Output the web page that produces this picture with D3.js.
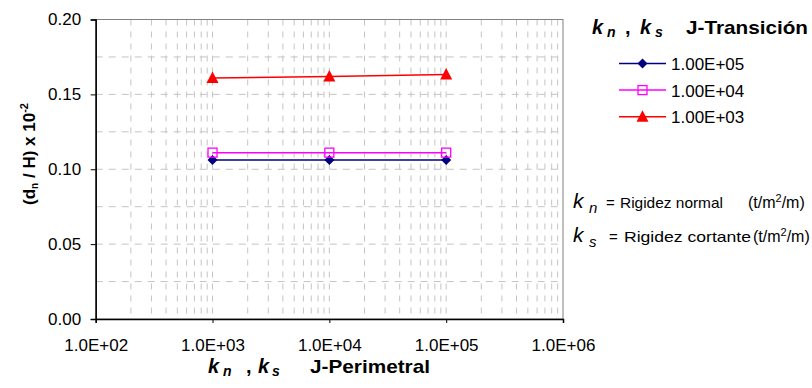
<!DOCTYPE html>
<html lang="es">
<head>
<meta charset="UTF-8">
<title>Desplazamiento normal</title>
<script src="https://cdn.jsdelivr.net/npm/d3@7"></script>
<style>
  body { margin: 0; background: #fff; }
  svg { font-family: "Liberation Sans", Arial, sans-serif; }
  .tick text { font-size: 17px; fill: #000; }
</style>
</head>
<body>
<div id="chart"></div>
<script>
// valores
const perimetral = [1e3, 1e4, 1e5];   // kn, ks J-Perimetral
const transicion = ["1.00E+05", "1.00E+04", "1.00E+03"];
const serie1e5 = [0.1062, 0.1062, 0.1062];
const serie1e4 = [0.1111, 0.1111, 0.1111];
const serie1e3 = [0.1609, 0.1620, 0.1633];
const xTicks = [1e2, 1e3, 1e4, 1e5, 1e6];
const yTicks = [0, 0.05, 0.10, 0.15, 0.20];

const width = 812, height = 388;
const mLeft = 95.7, mRight = 563, mTop = 19.5, mBottom = 319;

const svg = d3.select("#chart").append("svg")
  .attr("width", width).attr("height", height);

const x = d3.scaleLog().domain([1e2, 1e6]).range([mLeft, mRight]);
const y = d3.scaleLinear().domain([0, 0.2]).range([mBottom, mTop]);

// rejilla
const grid = svg.append("g");
const minor = [];
for (let p = 2; p < 6; p++) for (let k = 1; k < 10; k++) minor.push(k * Math.pow(10, p));
grid.selectAll(".vg").data(minor.filter(v => v > 1e2)).join("line")
  .attr("x1", d => x(d)).attr("x2", d => x(d))
  .attr("y1", mTop).attr("y2", mBottom)
  .attr("stroke", "#c4c4c4").attr("stroke-dasharray", "6,6");
grid.selectAll(".hg").data(d3.range(1, 8).map(i => i * 0.025)).join("line")
  .attr("x1", mLeft).attr("x2", mRight)
  .attr("y1", d => y(d)).attr("y2", d => y(d))
  .attr("stroke", "#c4c4c4").attr("stroke-dasharray", "7,6");

// borde del area
svg.append("rect").attr("x", mLeft).attr("y", mTop)
  .attr("width", mRight - mLeft).attr("height", mBottom - mTop)
  .attr("fill", "none").attr("stroke", "#808080");

// ejes
const xAxis = svg.append("g").attr("transform", `translate(0,${mBottom})`)
  .call(d3.axisBottom(x).tickValues(xTicks).tickSize(4).tickPadding(16)
    .tickFormat(d => "1.0E+0" + Math.round(Math.log10(d))));
const yAxis = svg.append("g").attr("transform", `translate(${mLeft},0)`)
  .call(d3.axisLeft(y).tickValues(yTicks).tickSize(5).tickPadding(9.5)
    .tickFormat(d3.format(".2f")));
[xAxis, yAxis].forEach(a => {
  a.select(".domain").attr("stroke", "#000").attr("stroke-width", 1.5);
  a.selectAll(".tick line").attr("stroke", "#000");
});

// series
const series = [
  { name: transicion[0], vals: serie1e5, color: "#000080", shape: "diamond" },
  { name: transicion[1], vals: serie1e4, color: "#ff00ff", shape: "square" },
  { name: transicion[2], vals: serie1e3, color: "#ff0000", shape: "triangle" }
];
const line = d3.line().x(d => x(d[0])).y(d => y(d[1]));

function marker(g, s, cx, cy) {
  if (s.shape === "diamond") {
    g.append("path").attr("d", `M${cx},${cy - 5}L${cx + 5},${cy}L${cx},${cy + 5}L${cx - 5},${cy}Z`)
      .attr("fill", s.color);
  } else if (s.shape === "square") {
    g.append("rect").attr("x", cx - 4.5).attr("y", cy - 4.5).attr("width", 9).attr("height", 9)
      .attr("fill", "none").attr("stroke", s.color).attr("stroke-width", 1.3);
  } else {
    g.append("path").attr("d", `M${cx},${cy - 6.5}L${cx + 6},${cy + 5}L${cx - 6},${cy + 5}Z`)
      .attr("fill", s.color);
  }
}

series.forEach(s => {
  const pts = perimetral.map((k, i) => [k, s.vals[i]]);
  const g = svg.append("g");
  g.append("path").attr("d", line(pts)).attr("fill", "none")
    .attr("stroke", s.color).attr("stroke-width", 1.5);
  pts.forEach(p => marker(g, s, x(p[0]), y(p[1])));
});

// titulos "kn , ks  ..." con posiciones de cada pieza
function kTitle(x0, base, off, suffix, suffixW) {
  const g = svg.append("g").attr("font-weight", "bold");
  g.append("text").attr("x", x0).attr("y", base).attr("font-size", 20).attr("font-style", "italic").text("k");
  g.append("text").attr("x", x0 + 15).attr("y", base + 3).attr("font-size", 14).attr("font-style", "italic").text("n");
  g.append("text").attr("x", x0 + off[0]).attr("y", base).attr("font-size", 20).text(",");
  g.append("text").attr("x", x0 + off[1]).attr("y", base).attr("font-size", 20).attr("font-style", "italic").text("k");
  g.append("text").attr("x", x0 + off[2]).attr("y", base + 3).attr("font-size", 14).attr("font-style", "italic").text("s");
  g.append("text").attr("x", x0 + off[3]).attr("y", base).attr("font-size", 19)
    .attr("textLength", suffixW).attr("lengthAdjust", "spacingAndGlyphs").text(suffix);
}
kTitle(208, 373, [38, 50, 64, 102], "J-Perimetral", 120);
kTitle(592, 34, [33, 48, 63, 94], "J-Transición", 122);

const yt = svg.append("text").attr("transform", "translate(35,154) rotate(-90)")
  .attr("text-anchor", "middle").attr("font-size", 17).attr("font-weight", "bold");
yt.append("tspan").text("(d");
yt.append("tspan").attr("font-size", 10).attr("dy", 3).text("n");
yt.append("tspan").attr("dy", -3).text(" / H) x 10");
yt.append("tspan").attr("font-size", 11).attr("dy", -7).text("-2");

// leyenda
const leg = svg.append("g");
series.forEach((s, i) => {
  const cy = 63.5 + i * 26.6;
  leg.append("line").attr("x1", 619).attr("x2", 666).attr("y1", cy).attr("y2", cy)
    .attr("stroke", s.color).attr("stroke-width", 1.5);
  marker(leg, s, 642.5, cy);
  leg.append("text").attr("x", 671).attr("y", cy + 6.5).attr("font-size", 17).text(s.name);
});

// notas
function nota(base, sub, eqX, txt, txtX, txtW, unitX) {
  const g = svg.append("g");
  g.append("text").attr("x", 573).attr("y", base).attr("font-size", 21).attr("font-style", "italic").text("k");
  g.append("text").attr("x", 589).attr("y", base + 5).attr("font-size", 15).attr("font-style", "italic").text(sub);
  g.append("text").attr("x", eqX).attr("y", base).attr("font-size", 15).text("=");
  g.append("text").attr("x", txtX).attr("y", base).attr("font-size", 15)
    .attr("textLength", txtW).attr("lengthAdjust", "spacingAndGlyphs").text(txt);
  const u = g.append("text").attr("x", unitX).attr("y", base).attr("font-size", 16);
  u.append("tspan").text("(t/m");
  u.append("tspan").attr("font-size", 11).attr("dy", -6).text("2");
  u.append("tspan").attr("dy", 6).text("/m)");
}
nota(208, "n", 606, "Rigidez normal", 620, 103, 748);
nota(242, "s", 609, "Rigidez cortante", 624, 127, 753);
</script>
</body>
</html>
